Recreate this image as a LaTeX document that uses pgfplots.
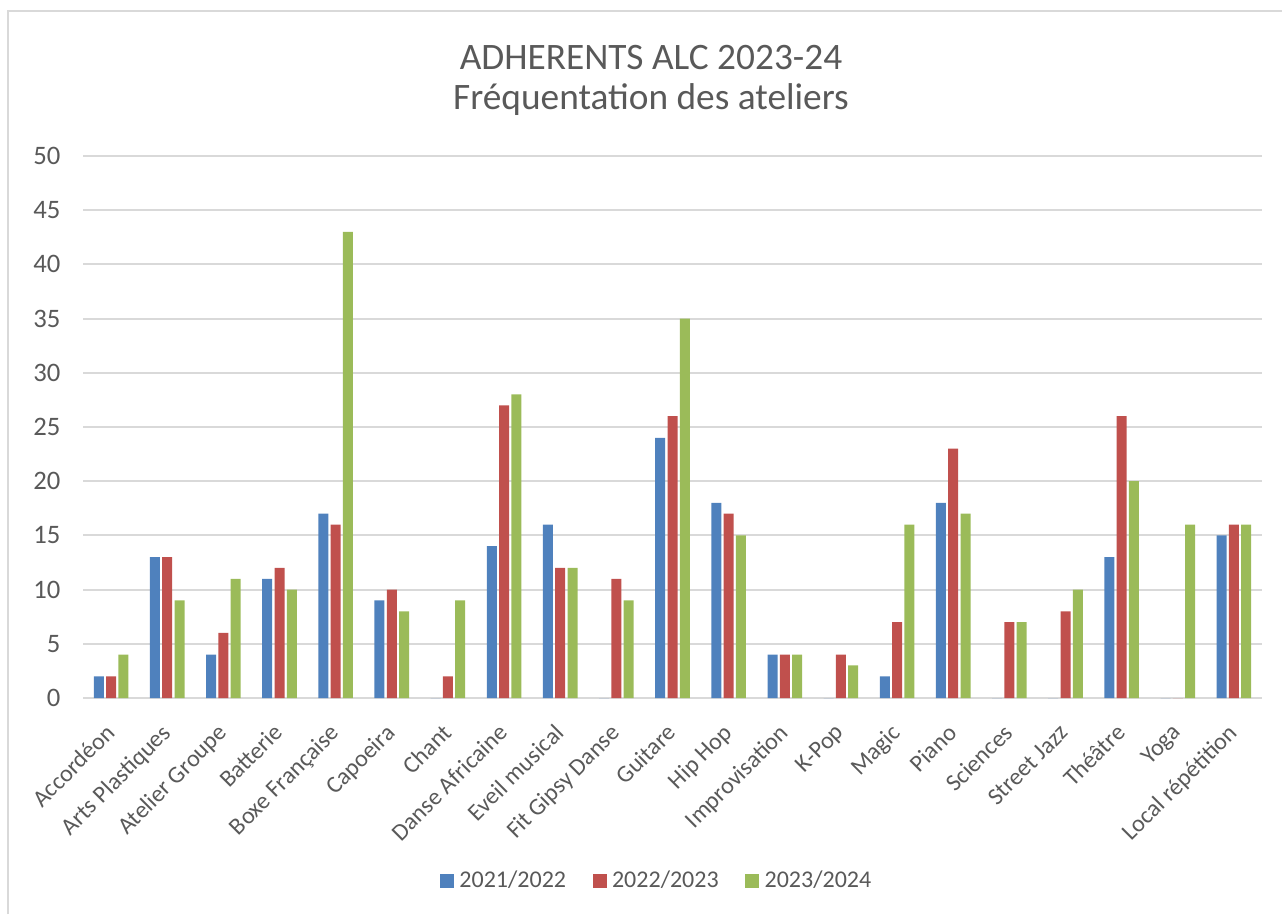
\documentclass[border=0pt]{standalone}
\usepackage{fontspec}
\setmainfont{Carlito}
\usepackage{pgfplots}
\pgfplotsset{compat=1.18}

\definecolor{cblue}{HTML}{4F81BD}
\definecolor{cred}{HTML}{C0504D}
\definecolor{cgreen}{HTML}{9BBB59}
\definecolor{txtgray}{HTML}{595959}
\definecolor{gridgray}{HTML}{D9D9D9}

% 1 px of the reference = 0.375pt
\begin{document}
\begin{tikzpicture}
  \useasboundingbox (0,0) rectangle (480.75pt,342.75pt);
  % chart frame (cut at the right and bottom)
  \draw[gridgray, line width=0.75pt] (3pt,0) -- (3pt,338.625pt) -- (480.75pt,338.625pt);

  \node[anchor=base, text=txtgray, font=\fontsize{14}{16}\selectfont] at (244.125pt,316.5pt) {ADHERENTS ALC 2023-24};
  \node[anchor=base, text=txtgray, font=\fontsize{14}{16}\selectfont] at (244.125pt,301.5pt) {Fréquentation des ateliers};

  \begin{axis}[
      at={(31.125pt,81pt)}, anchor=south west,
      scale only axis,
      width=442.125pt, height=203.25pt,
      ybar=0.86pt, bar width=3.75pt,
      xmin=-0.5, xmax=20.5,
      ymin=0, ymax=50,
      ytick={0,5,...,50},
      xtick={0,...,20},
      xticklabels={Accordéon, Arts Plastiques, Atelier Groupe, Batterie, Boxe Française,
        Capoeira, Chant, Danse Africaine, Eveil musical, Fit Gipsy Danse, Guitare,
        Hip Hop, Improvisation, K-Pop, Magic, Piano, Sciences, Street Jazz,
        Théâtre, Yoga, Local répétition},
      axis x line*=bottom,
      axis y line*=left,
      axis line style={draw=none},
      ymajorgrids=true,
      grid style={gridgray, line width=0.75pt},
      major tick length=0pt,
      tick style={draw=none},
      /pgf/number format/assume math mode=true,
      ticklabel style={text=txtgray},
      yticklabel style={font=\fontsize{10}{12}\selectfont, anchor=east, inner sep=0pt, xshift=-8.25pt},
      xticklabel style={font=\fontsize{9}{11}\selectfont, xshift=-2.6pt, yshift=-9pt,
        rotate=45, anchor=north east, inner sep=0pt},
      legend columns=3,
      legend style={at={(0.488,-0.338)}, anchor=center, draw=none,
        font=\fontsize{9}{11}\selectfont, text=txtgray,
        /tikz/every even column/.append style={column sep=8pt}},
      legend image code/.code={\fill[#1] (0pt,-2.6pt) rectangle (5.25pt,2.65pt);},
      legend cell align=left,
    ]
    \draw[gridgray, line width=0.75pt] (axis cs:-0.5,0) -- (axis cs:20.5,0);
    % 2021/2022
    \addplot[fill=cblue, draw=none] coordinates {
      (0,2) (1,13) (2,4) (3,11) (4,17) (5,9) (6,0) (7,14) (8,16) (9,0) (10,24)
      (11,18) (12,4) (13,0) (14,2) (15,18) (16,0) (17,0) (18,13) (19,0) (20,15)};
    % 2022/2023
    \addplot[fill=cred, draw=none] coordinates {
      (0,2) (1,13) (2,6) (3,12) (4,16) (5,10) (6,2) (7,27) (8,12) (9,11) (10,26)
      (11,17) (12,4) (13,4) (14,7) (15,23) (16,7) (17,8) (18,26) (19,0) (20,16)};
    % 2023/2024
    \addplot[fill=cgreen, draw=none] coordinates {
      (0,4) (1,9) (2,11) (3,10) (4,43) (5,8) (6,9) (7,28) (8,12) (9,9) (10,35)
      (11,15) (12,4) (13,3) (14,16) (15,17) (16,7) (17,10) (18,20) (19,16) (20,16)};
    \legend{2021/2022, 2022/2023, 2023/2024}
  \end{axis}
\end{tikzpicture}
\end{document}
